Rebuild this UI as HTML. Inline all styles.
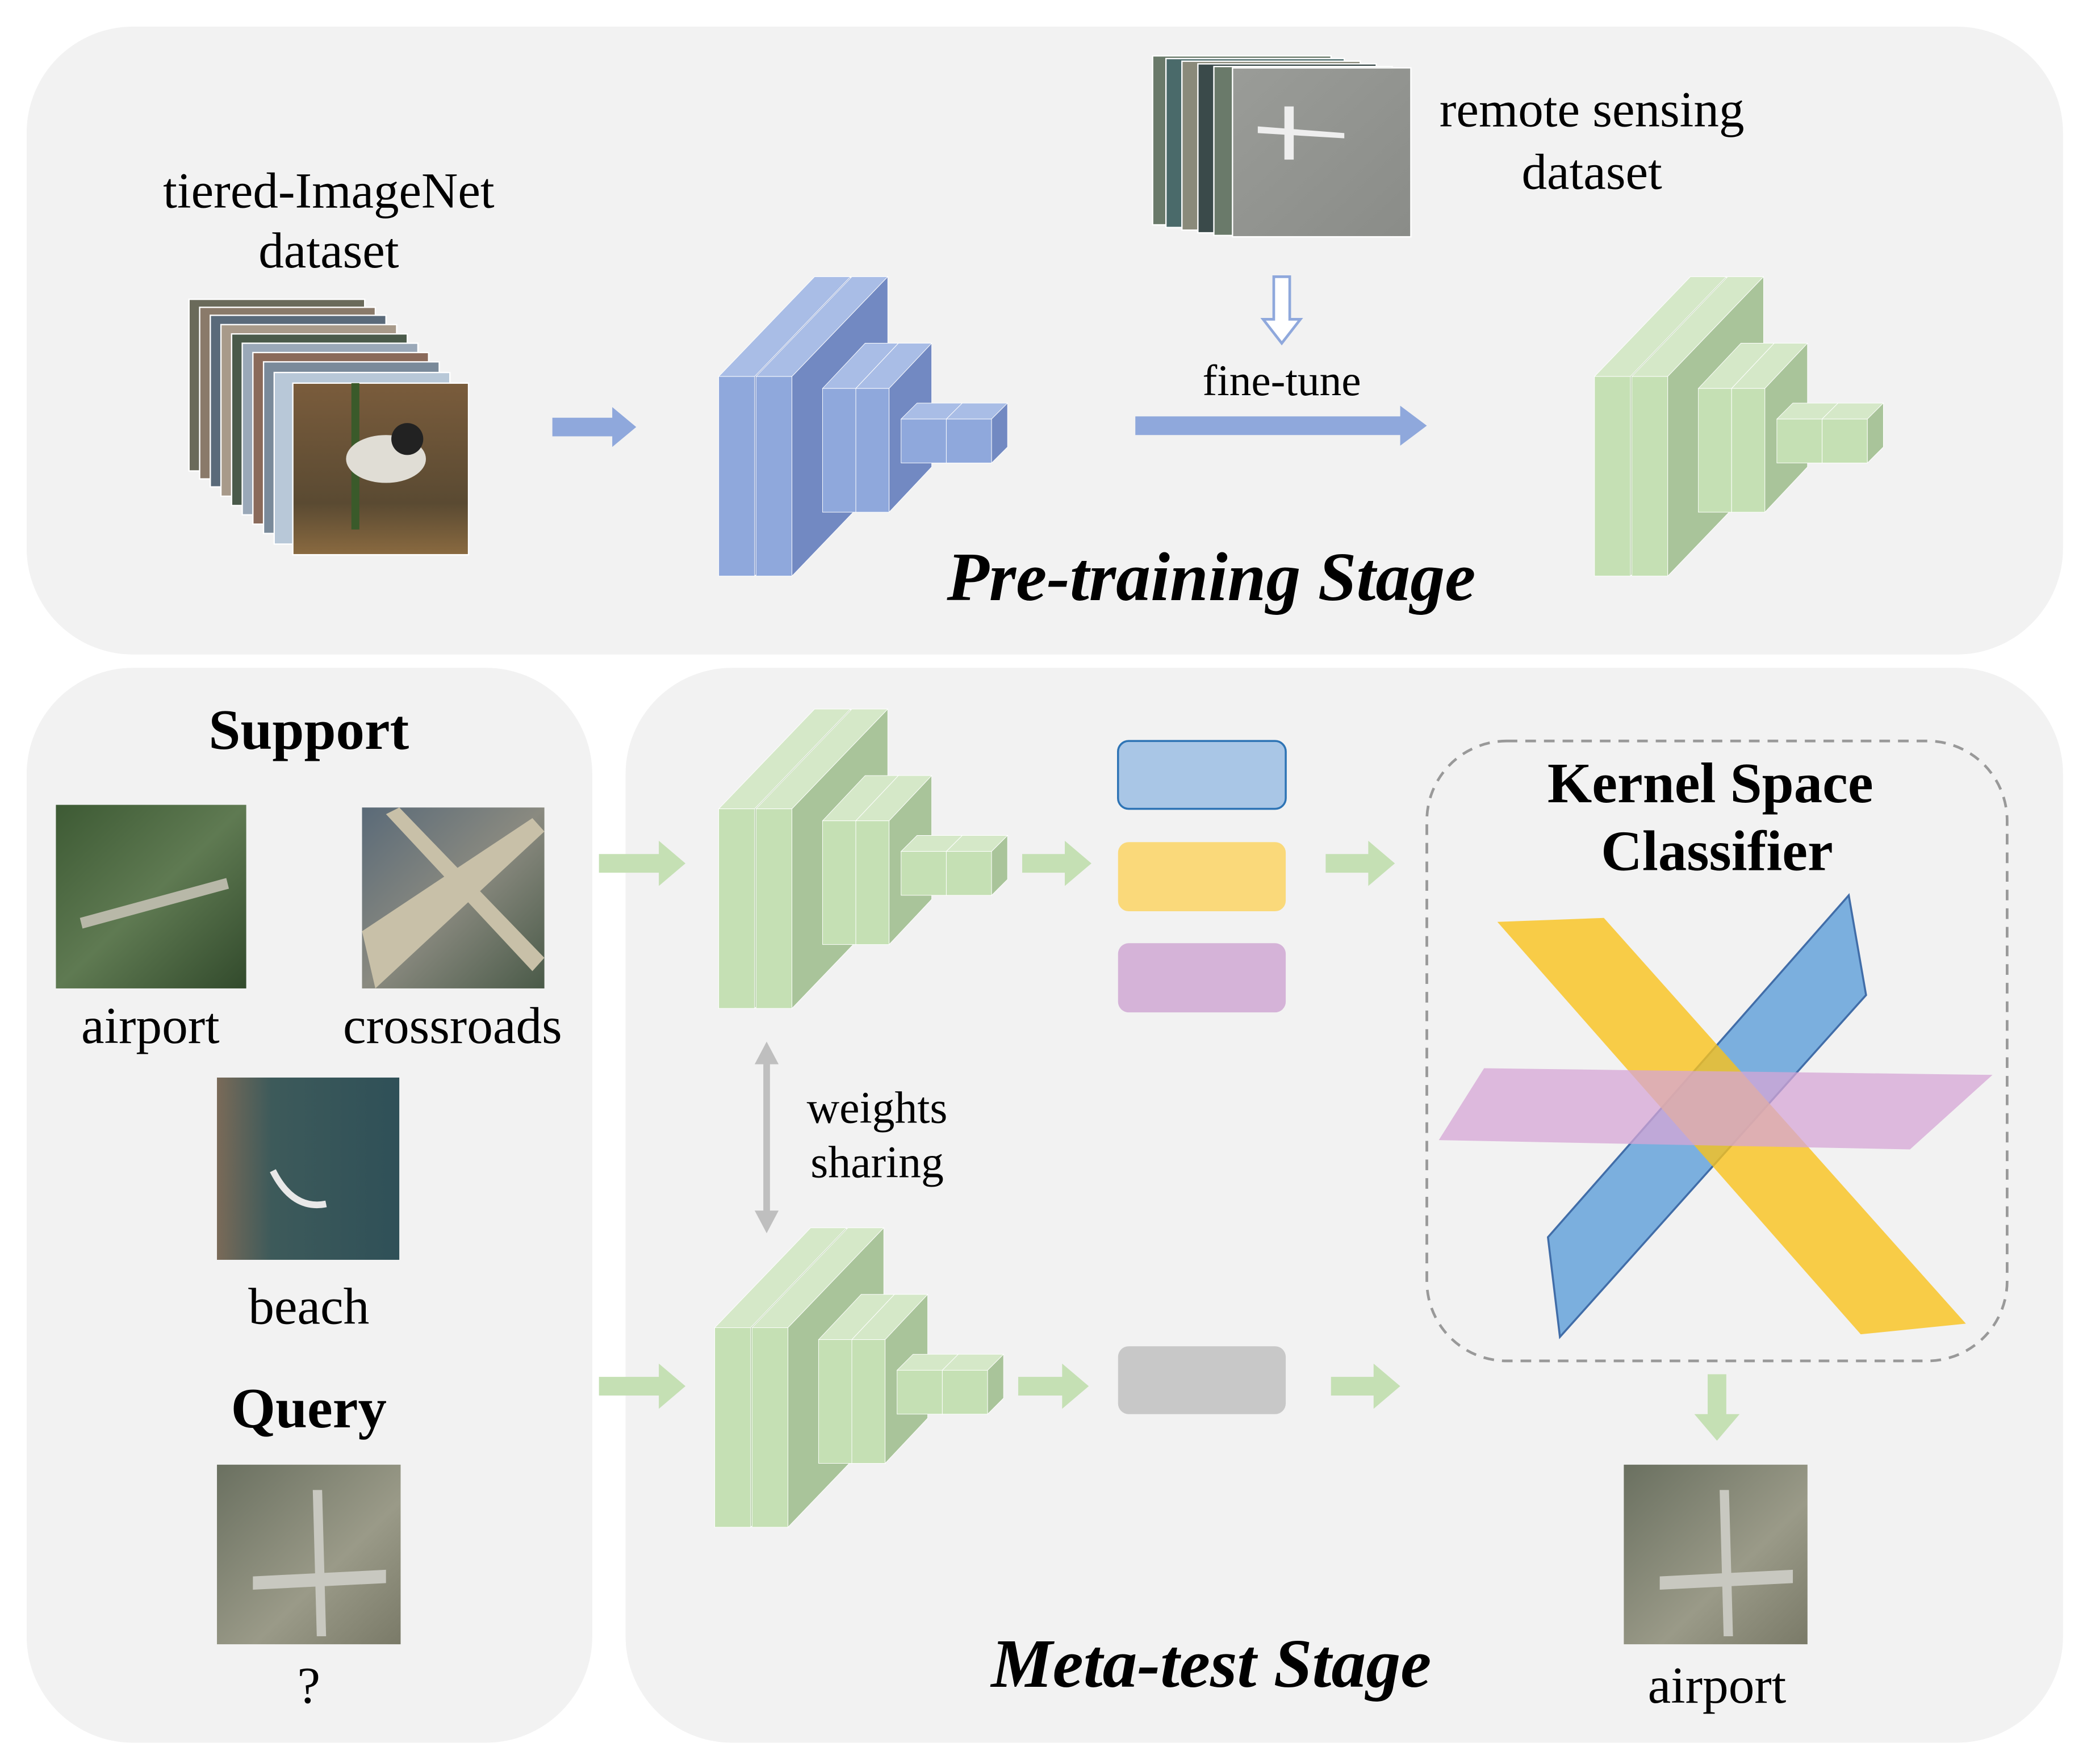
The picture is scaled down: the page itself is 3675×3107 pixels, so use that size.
<!DOCTYPE html>
<html><head><meta charset="utf-8"><style>
html,body{margin:0;padding:0;background:#fff}
svg{display:block}
text{font-family:"Liberation Serif",serif;fill:#000}
</style></head><body>
<svg width="3675" height="3107" viewBox="0 0 1568 1326" preserveAspectRatio="none" xmlns="http://www.w3.org/2000/svg" xmlns:xlink="http://www.w3.org/1999/xlink">
<defs>
<linearGradient id="bird" x1="0" y1="0" x2="0" y2="1"><stop offset="0" stop-color="#7a5c3c"/><stop offset="0.7" stop-color="#5a4a32"/><stop offset="1" stop-color="#8a6a40"/></linearGradient>
<linearGradient id="aer1" x1="0" y1="0" x2="1" y2="1"><stop offset="0" stop-color="#3d5a34"/><stop offset="0.5" stop-color="#5f7a52"/><stop offset="1" stop-color="#324a2c"/></linearGradient>
<linearGradient id="aer2" x1="0" y1="0" x2="1" y2="1"><stop offset="0" stop-color="#5a6a78"/><stop offset="0.5" stop-color="#8a8a80"/><stop offset="1" stop-color="#4a5a48"/></linearGradient>
<linearGradient id="aer3" x1="0" y1="0" x2="1" y2="0"><stop offset="0" stop-color="#7a6a58"/><stop offset="0.3" stop-color="#3d5a5a"/><stop offset="1" stop-color="#2f5058"/></linearGradient>
<linearGradient id="aer4" x1="0" y1="0" x2="1" y2="1"><stop offset="0" stop-color="#6a7060"/><stop offset="0.6" stop-color="#9a9a88"/><stop offset="1" stop-color="#7a7a68"/></linearGradient>
<linearGradient id="rs" x1="0" y1="0" x2="1" y2="1"><stop offset="0" stop-color="#9a9c98"/><stop offset="1" stop-color="#8a8c88"/></linearGradient>
<g id="cnnb" stroke="#fff" stroke-width="0.4">
<polygon points="540,283 612,208 639,208 567,283" fill="#a9bde6"/>
<rect x="540" y="283" width="27" height="150" fill="#8fa8dc"/>
<polygon points="567,283 639,208 639,358 567,433" fill="#7289c2"/>
<polygon points="568,283 640,208 667,208 595,283" fill="#a9bde6"/>
<rect x="568" y="283" width="27" height="150" fill="#8fa8dc"/>
<polygon points="595,283 667,208 667,358 595,433" fill="#7289c2"/>
<polygon points="618,292 650,258 675,258 643,292" fill="#a9bde6"/>
<rect x="618" y="292" width="25" height="93" fill="#8fa8dc"/>
<polygon points="643,292 675,258 675,351 643,385" fill="#7289c2"/>
<polygon points="643,292 675,258 700,258 668,292" fill="#a9bde6"/>
<rect x="643" y="292" width="25" height="93" fill="#8fa8dc"/>
<polygon points="668,292 700,258 700,351 668,385" fill="#7289c2"/>
<polygon points="677,315 689,303 723,303 711,315" fill="#a9bde6"/>
<rect x="677" y="315" width="34" height="33" fill="#8fa8dc"/>
<polygon points="711,315 723,303 723,336 711,348" fill="#7289c2"/>
<polygon points="711,315 723,303 757,303 745,315" fill="#a9bde6"/>
<rect x="711" y="315" width="34" height="33" fill="#8fa8dc"/>
<polygon points="745,315 757,303 757,336 745,348" fill="#7289c2"/>
</g>
<g id="cnng" stroke="#fff" stroke-width="0.4">
<polygon points="540,283 612,208 639,208 567,283" fill="#d5e8c8"/>
<rect x="540" y="283" width="27" height="150" fill="#c5e0b4"/>
<polygon points="567,283 639,208 639,358 567,433" fill="#a9c49a"/>
<polygon points="568,283 640,208 667,208 595,283" fill="#d5e8c8"/>
<rect x="568" y="283" width="27" height="150" fill="#c5e0b4"/>
<polygon points="595,283 667,208 667,358 595,433" fill="#a9c49a"/>
<polygon points="618,292 650,258 675,258 643,292" fill="#d5e8c8"/>
<rect x="618" y="292" width="25" height="93" fill="#c5e0b4"/>
<polygon points="643,292 675,258 675,351 643,385" fill="#a9c49a"/>
<polygon points="643,292 675,258 700,258 668,292" fill="#d5e8c8"/>
<rect x="643" y="292" width="25" height="93" fill="#c5e0b4"/>
<polygon points="668,292 700,258 700,351 668,385" fill="#a9c49a"/>
<polygon points="677,315 689,303 723,303 711,315" fill="#d5e8c8"/>
<rect x="677" y="315" width="34" height="33" fill="#c5e0b4"/>
<polygon points="711,315 723,303 723,336 711,348" fill="#a9c49a"/>
<polygon points="711,315 723,303 757,303 745,315" fill="#d5e8c8"/>
<rect x="711" y="315" width="34" height="33" fill="#c5e0b4"/>
<polygon points="745,315 757,303 757,336 745,348" fill="#a9c49a"/>
</g>
</defs>
<rect x="20" y="20" width="1530" height="472" rx="80" fill="#f2f2f2"/>
<rect x="20" y="502" width="425" height="808" rx="80" fill="#f2f2f2"/>
<rect x="470" y="502" width="1080" height="808" rx="80" fill="#f2f2f2"/>

<text x="247" y="156" font-size="38" text-anchor="middle">tiered-ImageNet</text>
<text x="247" y="201" font-size="38" text-anchor="middle">dataset</text>
<g stroke="#fff" stroke-width="1">
<rect x="142" y="225" width="132" height="129" fill="#6a6a5a"/>
<rect x="150" y="231" width="132" height="129" fill="#8a7a6a"/>
<rect x="158" y="237" width="132" height="129" fill="#5a6a7a"/>
<rect x="166" y="244" width="132" height="129" fill="#a89a8a"/>
<rect x="174" y="251" width="132" height="129" fill="#4a5a4a"/>
<rect x="182" y="258" width="132" height="129" fill="#9aa8b8"/>
<rect x="190" y="265" width="132" height="129" fill="#8a6a5a"/>
<rect x="198" y="272" width="132" height="129" fill="#7a8a9a"/>
<rect x="206" y="280" width="132" height="129" fill="#b8c8d8"/>
<rect x="220" y="288" width="132" height="129" fill="url(#bird)"/>
</g>
<rect x="264" y="288" width="6" height="110" fill="#3a5a2a"/>
<ellipse cx="290" cy="345" rx="30" ry="18" fill="#e0ddd5"/>
<circle cx="306" cy="330" r="12" fill="#222"/>
<polygon points="415,314 460,314 460,306 478,321 460,336 460,328 415,328" fill="#8fa8dc"/>

<g stroke="#fff" stroke-width="1">
<rect x="866" y="42" width="134" height="127" fill="#6a7a6a"/>
<rect x="876" y="44" width="134" height="127" fill="#4a6a6a"/>
<rect x="888" y="46" width="134" height="127" fill="#8a8a7a"/>
<rect x="900" y="48" width="134" height="127" fill="#3a4a4a"/>
<rect x="912" y="50" width="134" height="127" fill="#6a7a6a"/>
<rect x="926" y="51" width="134" height="127" fill="url(#rs)"/>
</g>
<polygon points="945,95 1010,100 1010,104 945,100" fill="#eee"/>
<polygon points="965,80 972,80 972,120 965,120" fill="#eee"/>
<text x="1196" y="95" font-size="38" text-anchor="middle">remote sensing</text>
<text x="1196" y="142" font-size="38" text-anchor="middle">dataset</text>
<polygon points="957,208 969,208 969,240 977,240 963,258 949,240 957,240" fill="#fff" stroke="#8fa8dc" stroke-width="2"/>
<text x="963" y="297" font-size="33" text-anchor="middle">fine-tune</text>
<polygon points="853,313 1052,313 1052,305 1072,320 1052,335 1052,327 853,327" fill="#8fa8dc"/>
<text x="910" y="451" font-size="52" font-weight="bold" font-style="italic" text-anchor="middle">Pre-training Stage</text>

<use xlink:href="#cnnb" href="#cnnb"/>
<use xlink:href="#cnng" href="#cnng" transform="translate(658,0)"/>
<use xlink:href="#cnng" href="#cnng" transform="translate(0,325)"/>
<use xlink:href="#cnng" href="#cnng" transform="translate(-3,715)"/>

<text x="232" y="563" font-size="43" font-weight="bold" text-anchor="middle">Support</text>
<rect x="42" y="605" width="143" height="138" fill="url(#aer1)"/>
<polygon points="60,690 170,660 172,668 62,698" fill="#b8b8a8"/>
<rect x="272" y="607" width="137" height="136" fill="url(#aer2)"/>
<polygon points="272,700 400,615 409,625 282,743" fill="#c8c0a8"/>
<polygon points="300,607 409,720 400,730 290,612" fill="#c8c0a8"/>
<text x="113" y="784" font-size="39" text-anchor="middle">airport</text>
<text x="340" y="784" font-size="39" text-anchor="middle">crossroads</text>
<rect x="163" y="810" width="137" height="137" fill="url(#aer3)"/>
<path d="M205,880 Q220,910 245,905" stroke="#e8e8e8" stroke-width="5" fill="none"/>
<text x="232" y="995" font-size="39" text-anchor="middle">beach</text>
<text x="232" y="1073" font-size="43" font-weight="bold" text-anchor="middle">Query</text>
<rect x="163" y="1101" width="138" height="135" fill="url(#aer4)"/>
<polygon points="235,1120 242,1120 245,1230 238,1230" fill="#c8c8c0"/>
<polygon points="190,1185 290,1180 290,1190 190,1195" fill="#c8c8c0"/>
<text x="232" y="1280" font-size="39" text-anchor="middle">?</text>

<g fill="#c5e0b4">
<polygon points="450,642 495,642 495,632 515,649 495,666 495,656 450,656"/>
<polygon points="768,642 800,642 800,632 820,649 800,666 800,656 768,656"/>
<polygon points="996,642 1028,642 1028,632 1048,649 1028,666 1028,656 996,656"/>
<polygon points="450,1035 495,1035 495,1025 515,1042 495,1059 495,1049 450,1049"/>
<polygon points="765,1035 798,1035 798,1025 818,1042 798,1059 798,1049 765,1049"/>
<polygon points="1000,1035 1032,1035 1032,1025 1052,1042 1032,1059 1032,1049 1000,1049"/>
<polygon points="1283,1033 1297,1033 1297,1063 1307,1063 1290,1083 1273,1063 1283,1063"/>
</g>

<rect x="840" y="557" width="126" height="51" rx="8" fill="#a9c6e6" stroke="#2e74b5" stroke-width="1.5"/>
<rect x="840" y="633" width="126" height="52" rx="8" fill="#fad97a"/>
<rect x="840" y="709" width="126" height="52" rx="8" fill="#d5b3d8"/>
<rect x="840" y="1012" width="126" height="51" rx="8" fill="#c8c8c8"/>

<line x1="576" y1="798" x2="576" y2="912" stroke="#bfbfbf" stroke-width="5"/>
<polygon points="576,783 567,800 585,800" fill="#bfbfbf"/>
<polygon points="576,927 567,910 585,910" fill="#bfbfbf"/>
<text x="659" y="844" font-size="34" text-anchor="middle">weights</text>
<text x="659" y="885" font-size="34" text-anchor="middle">sharing</text>

<rect x="1072" y="557" width="436" height="466" rx="60" fill="none" stroke="#999" stroke-width="2" stroke-dasharray="8,6"/>
<text x="1285" y="603" font-size="43" font-weight="bold" text-anchor="middle">Kernel Space</text>
<text x="1290" y="654" font-size="43" font-weight="bold" text-anchor="middle">Classifier</text>
<polygon points="1163,930 1389,673 1402,748 1172,1005" fill="#6fa8dc" opacity="0.9" stroke="#2e5fa0" stroke-width="1.5"/>
<polygon points="1125,693 1205,690 1477,995 1398,1003" fill="#f9c21b" opacity="0.8"/>
<polygon points="1115,803 1497,808 1435,864 1081,857" fill="#d5a6d5" opacity="0.75"/>

<rect x="1220" y="1101" width="138" height="135" fill="url(#aer4)"/>
<polygon points="1292,1120 1299,1120 1302,1230 1295,1230" fill="#c8c8c0"/>
<polygon points="1247,1185 1347,1180 1347,1190 1247,1195" fill="#c8c8c0"/>
<text x="1290" y="1280" font-size="39" text-anchor="middle">airport</text>
<text x="910" y="1268" font-size="52" font-weight="bold" font-style="italic" text-anchor="middle">Meta-test Stage</text>
</svg>
</body></html>
